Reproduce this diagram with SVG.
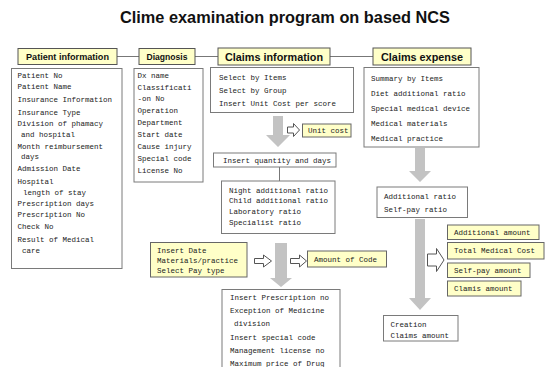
<svg xmlns="http://www.w3.org/2000/svg" width="545" height="367" viewBox="0 0 545 367">
<defs>
<style>
.bg{fill:#ffffff}
.title{font-family:"Liberation Sans",Arial,sans-serif;font-weight:bold;font-size:16.5px;fill:#111}
.hd{fill:#ffffc8;stroke:#555;stroke-width:1}
.ht{font-family:"Liberation Sans",Arial,sans-serif;font-weight:bold;fill:#111;text-anchor:middle}
.bx{fill:#ffffff;stroke:#7a7a7a;stroke-width:1}
.yb{fill:#ffffc8;stroke:#666;stroke-width:1}
.t{font-family:"Liberation Mono","DejaVu Sans Mono",monospace;font-size:7.5px;fill:#222}
.ln{stroke:#777;stroke-width:1;fill:none}
.ga{fill:#c3c3c3;stroke:none}
.wa{fill:#ffffff;stroke:#555;stroke-width:1;stroke-linejoin:miter}
</style>
</defs>
<rect class="bg" x="0" y="0" width="545" height="367"/>
<text class="title" x="120" y="23" textLength="330" lengthAdjust="spacingAndGlyphs">Clime examination program on based NCS</text>

<g id="connectors">
<line class="ln" x1="117" y1="56.5" x2="139" y2="56.5"/>
<line class="ln" x1="195" y1="56.5" x2="218" y2="56.5"/>
<line class="ln" x1="330" y1="56.5" x2="373" y2="56.5"/>
<line class="ln" x1="279.5" y1="167" x2="279.5" y2="181"/>
<polygon class="ga" points="273,116 283,116 283,135 290,135 278,147 266,135 273,135"/>
<polygon class="ga" points="275,243 287,243 287,278 292,278 281,287 270,278 275,278"/>
<polygon class="ga" points="415,148 425,148 425,171 431,171 420,182 409,171 415,171"/>
<polygon class="ga" points="415,219 425,219 425,298 431,298 420,310 409,298 415,298"/>
<polygon class="wa" points="287.5,127 293.5,127 293.5,123.5 299.5,130 293.5,136.5 293.5,133 287.5,133"/>
<polygon class="wa" points="254.5,258.5 263.5,258.5 263.5,255 271.5,261 263.5,267 263.5,263.5 254.5,263.5"/>
<polygon class="wa" points="290.5,258.5 299.5,258.5 299.5,255 306.5,261 299.5,267 299.5,263.5 290.5,263.5"/>
<polygon class="wa" points="427.5,254 436.5,254 436.5,248.5 444,260 436.5,271.5 436.5,266 427.5,266"/>
</g>

<g id="hdr-patient">
<rect class="hd" x="18" y="48.5" width="99" height="16"/>
<text class="ht" x="67.5" y="60" font-size="9" textLength="83" lengthAdjust="spacingAndGlyphs">Patient information</text>
</g>
<g id="hdr-diagnosis">
<rect class="hd" x="139" y="48.5" width="56" height="16"/>
<text class="ht" x="167" y="60" font-size="8.5" textLength="41" lengthAdjust="spacingAndGlyphs">Diagnosis</text>
</g>
<g id="hdr-claims">
<rect class="hd" x="218" y="48" width="112" height="17"/>
<text class="ht" x="274" y="61" font-size="11" textLength="98" lengthAdjust="spacingAndGlyphs">Claims information</text>
</g>
<g id="hdr-expense">
<rect class="hd" x="373" y="48" width="98" height="17"/>
<text class="ht" x="422" y="61" font-size="11" textLength="82" lengthAdjust="spacingAndGlyphs">Claims expense</text>
</g>

<g id="patient">
<rect class="bx" x="11.5" y="68.5" width="110.5" height="200"/>
<text class="t" x="17.5" y="78.3">Patient No</text>
<text class="t" x="17.5" y="88.8">Patient Name</text>
<text class="t" x="17.5" y="101.8">Insurance Information</text>
<text class="t" x="17.5" y="114.8">Insurance Type</text>
<text class="t" x="17.5" y="126.3">Division of phamacy</text>
<text class="t" x="21" y="136.8">and hospital</text>
<text class="t" x="17.5" y="149.3">Month reimbursement</text>
<text class="t" x="21" y="158.8">days</text>
<text class="t" x="17.5" y="170.8">Admission Date</text>
<text class="t" x="17.5" y="183.8">Hospital</text>
<text class="t" x="23" y="194.8">length of stay</text>
<text class="t" x="17.5" y="206.3">Prescription days</text>
<text class="t" x="17.5" y="217.3">Prescription No</text>
<text class="t" x="17.5" y="229.3">Check No</text>
<text class="t" x="17.5" y="241.8">Result of Medical</text>
<text class="t" x="22" y="252.8">care</text>
</g>

<g id="diagnosis">
<rect class="bx" x="134" y="68.5" width="69" height="113.5"/>
<text class="t" x="137.5" y="78.3">Dx name</text>
<text class="t" x="137.5" y="89.8">Classificati</text>
<text class="t" x="137.5" y="101.3">-on No</text>
<text class="t" x="137.5" y="113.3">Operation</text>
<text class="t" x="137.5" y="125.3">Department</text>
<text class="t" x="137.5" y="136.8">Start date</text>
<text class="t" x="137.5" y="148.8">Cause injury</text>
<text class="t" x="137.5" y="160.8">Special code</text>
<text class="t" x="137.5" y="172.8">License No</text>
</g>

<g id="select">
<rect class="bx" x="210.5" y="67.5" width="143" height="45"/>
<text class="t" x="219" y="79.8">Select by Items</text>
<text class="t" x="219" y="92.8">Select by Group</text>
<text class="t" x="219" y="105.8">Insert Unit Cost per score</text>
</g>

<g id="unit-cost">
<rect class="yb" x="302.5" y="124" width="48.5" height="13"/>
<text class="t" x="308" y="133.3">Unit cost</text>
</g>

<g id="insert-quantity">
<rect class="bx" x="213.5" y="153" width="122.5" height="14"/>
<text class="t" x="223" y="162.8">Insert quantity and days</text>
</g>

<g id="ratios">
<rect class="bx" x="221.5" y="181" width="113.5" height="52.5"/>
<text class="t" x="229" y="192.8">Night additional ratio</text>
<text class="t" x="229" y="202.8">Child additional ratio</text>
<text class="t" x="229" y="213.8">Laboratory ratio</text>
<text class="t" x="229" y="224.8">Specialist ratio</text>
</g>

<g id="insert-date">
<rect class="yb" x="150.5" y="242.5" width="96.5" height="34.5"/>
<text class="t" x="157" y="252.8">Insert Date</text>
<text class="t" x="157" y="263.3">Materials/practice</text>
<text class="t" x="157" y="273.3">Select Pay type</text>
</g>

<g id="amount-code">
<rect class="yb" x="307.5" y="251" width="79" height="16"/>
<text class="t" x="314" y="261.8">Amount of Code</text>
</g>

<g id="prescription">
<rect class="bx" x="222" y="289.5" width="118" height="85"/>
<text class="t" x="230" y="299.8">Insert Prescription no</text>
<text class="t" x="230" y="312.8">Exception of Medicine</text>
<text class="t" x="234" y="326.3">division</text>
<text class="t" x="230" y="339.8">Insert special code</text>
<text class="t" x="230" y="352.8">Management license no</text>
<text class="t" x="230" y="365.8">Maximum price of Drug</text>
</g>

<g id="expense">
<rect class="bx" x="364" y="67.5" width="115" height="79.5"/>
<text class="t" x="371" y="81.3">Summary by Items</text>
<text class="t" x="371" y="95.8">Diet additional ratio</text>
<text class="t" x="371" y="110.8">Special medical device</text>
<text class="t" x="371" y="125.8">Medical materials</text>
<text class="t" x="371" y="140.8">Medical practice</text>
</g>

<g id="add-ratio">
<rect class="bx" x="377" y="187" width="90.5" height="30.5"/>
<text class="t" x="384" y="198.8">Additional ratio</text>
<text class="t" x="384" y="211.8">Self-pay ratio</text>
</g>

<g id="additional-amount">
<rect class="yb" x="447.5" y="225" width="91.5" height="14.5"/>
<text class="t" x="454" y="234.8">Additional amount</text>
</g>
<g id="total-cost">
<rect class="yb" x="447.5" y="242.5" width="96.5" height="16.5"/>
<text class="t" x="454" y="253.3">Total Medical Cost</text>
</g>
<g id="self-pay">
<rect class="yb" x="447.5" y="263" width="82.5" height="14.5"/>
<text class="t" x="454" y="272.8">Self-pay amount</text>
</g>
<g id="claims-amount">
<rect class="yb" x="447.5" y="281" width="73.5" height="15"/>
<text class="t" x="454" y="291.3">Clamis amount</text>
</g>

<g id="creation">
<rect class="bx" x="383.5" y="315.5" width="74.5" height="25.5"/>
<text class="t" x="390.5" y="327">Creation</text>
<text class="t" x="390.5" y="337.5">Claims amount</text>
</g>
</svg>
